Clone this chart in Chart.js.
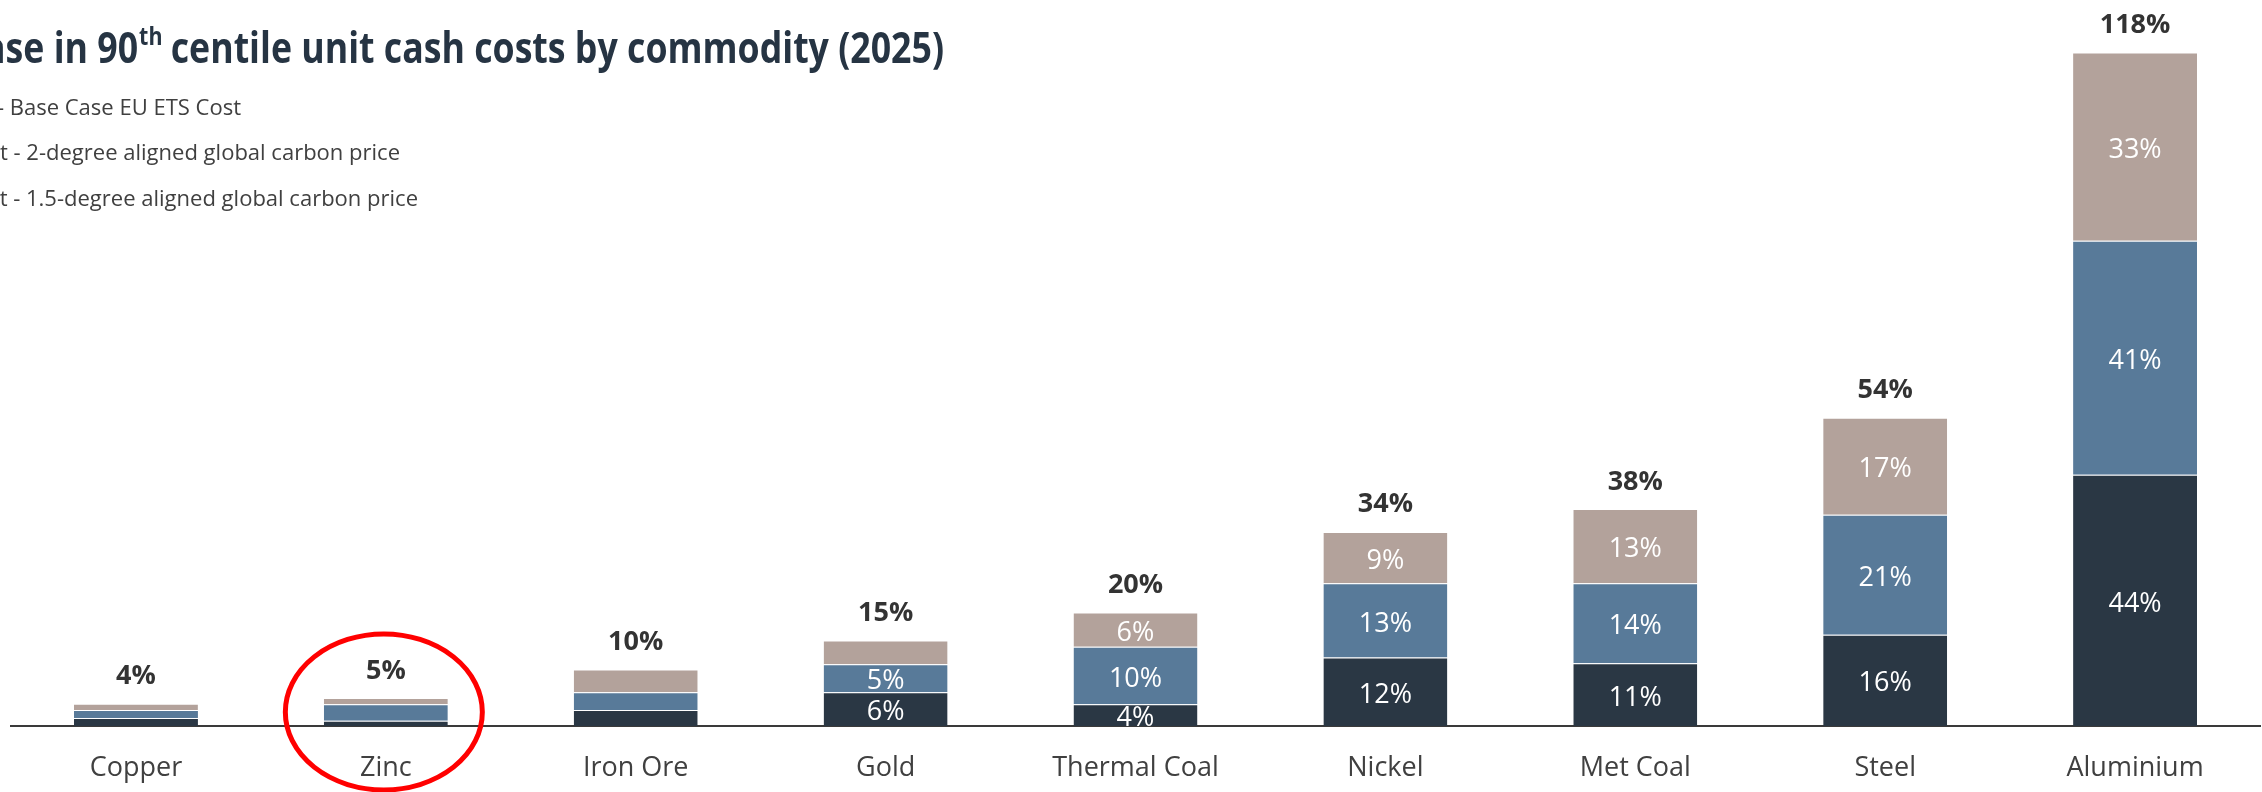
<!DOCTYPE html>
<html>
<head>
<meta charset="utf-8">
<script src="https://cdn.jsdelivr.net/npm/chart.js@4.4.1/dist/chart.umd.min.js"></script>
<style>
  html, body { margin: 0; padding: 0; background: #fff; }
  #wrap { width: 2262px; height: 792px; }
</style>
</head>
<body>
<div id="wrap"><canvas id="costChart" width="2262" height="792"></canvas></div>
<script>
// DATA
const commodities = ["Copper", "Zinc", "Iron Ore", "Gold", "Thermal Coal", "Nickel", "Met Coal", "Steel", "Aluminium"];
const baseCase    = [1.4, 0.9, 2.8, 5.9, 3.8, 12, 11, 16, 44];
const twoDegree   = [1.4, 2.9, 3.1, 4.9, 10.1, 13, 14, 21, 41];
const onePointFive = [1.1, 1.1, 4.0, 4.2, 6.0, 9, 13, 17, 33];

// which segments carry a value label inside the bar
const baseShown   = [false, false, false, true, true, true, true, true, true];
const twoShown    = [false, false, false, true, true, true, true, true, true];
const onePtShown  = [false, false, false, false, true, true, true, true, true];

// commodity circled in red
const highlighted = "Zinc";

// TEXT
const titleLead = "ase in ";
const titleNum = "90";
const titleSup = "th";
const titleRest = " centile unit cash costs by commodity (2025)";
const legendLines = [
  "- Base Case EU ETS Cost",
  "t - 2-degree aligned global carbon price",
  "t - 1.5-degree aligned global carbon price"
];

const FONT = '"Open Sans", "Noto Sans", sans-serif';
Chart.defaults.font.family = FONT;

// title + legend text (left side is cropped in the original)
const textPlugin = {
  id: "texts",
  afterDraw(chart) {
    const ctx = chart.ctx;
    ctx.save();

    // title, fitted so "90th ... (2025)" spans 97..944
    let size = 36;
    const widths = (s) => {
      ctx.font = `bold ${s}px ${FONT}`;
      const a = ctx.measureText(titleNum).width;
      const c = ctx.measureText(titleRest).width;
      ctx.font = `bold ${s * 0.6}px ${FONT}`;
      const b = ctx.measureText(titleSup).width;
      return [a, b, c];
    };
    let w = widths(size);
    size = size * 847 / (w[0] + w[1] + w[2]);
    w = widths(size);
    let x = 944 - (w[0] + w[1] + w[2]);
    ctx.save();
    ctx.translate(0, 63);
    ctx.scale(1, 1.18); // taller, narrower look of the original face
    ctx.fillStyle = "#263443";
    ctx.textBaseline = "alphabetic";
    ctx.font = `bold ${size}px ${FONT}`;
    ctx.textAlign = "right";
    ctx.fillText(titleLead, x, 0);
    ctx.textAlign = "left";
    ctx.fillText(titleNum, x, 0);
    x += w[0];
    ctx.font = `bold ${size * 0.6}px ${FONT}`;
    ctx.fillText(titleSup, x + 1, -size * 0.42);
    x += w[1];
    ctx.font = `bold ${size}px ${FONT}`;
    ctx.fillText(titleRest, x, 0);
    ctx.restore();

    // legend lines
    ctx.font = `20px ${FONT}`;
    const lw = ctx.measureText("2-degree aligned global carbon price").width;
    const lsize = 20 * 374 / lw;
    ctx.font = `${lsize}px ${FONT}`;
    ctx.fillStyle = "#404040";
    ctx.textAlign = "right";
    const ends = [241, 400, 418];
    const bases = [115, 160, 206];
    legendLines.forEach((t, i) => ctx.fillText(t, ends[i], bases[i]));

    // red ring around the highlighted commodity
    const idx = commodities.indexOf(highlighted);
    const cx = chart.scales.x.getPixelForValue(idx) - 2;
    ctx.strokeStyle = "#ff0000";
    ctx.lineWidth = 5;
    ctx.beginPath();
    ctx.ellipse(cx, 712, 98.5, 78, 0, 0, Math.PI * 2);
    ctx.stroke();

    ctx.restore();
  }
};

// value labels inside segments and totals on top
const labelPlugin = {
  id: "barLabels",
  afterDatasetsDraw(chart) {
    const ctx = chart.ctx;
    const size = 27;
    ctx.save();
    ctx.textAlign = "center";
    ctx.textBaseline = "alphabetic";
    chart.data.datasets.forEach((ds, di) => {
      const meta = chart.getDatasetMeta(di);
      meta.data.forEach((bar, i) => {
        if (!ds.shown[i]) return;
        const p = bar.getProps(["x", "y", "base"], true);
        const mid = (p.y + p.base) / 2;
        ctx.font = `${size}px ${FONT}`;
        ctx.fillStyle = "#ffffff";
        ctx.fillText(Math.round(ds.data[i]) + "%", p.x, mid + size * 0.357 + 1.5);
      });
    });
    const last = chart.getDatasetMeta(chart.data.datasets.length - 1);
    last.data.forEach((bar, i) => {
      const p = bar.getProps(["x", "y"], true);
      const total = baseCase[i] + twoDegree[i] + onePointFive[i];
      ctx.font = `bold ${size}px ${FONT}`;
      ctx.fillStyle = "#333333";
      ctx.fillText(Math.round(total) + "%", p.x, p.y - 19.5);
    });
    ctx.restore();
  }
};

const segBorder = "rgba(255,255,255,0.35)";

new Chart(document.getElementById("costChart"), {
  type: "bar",
  data: {
    labels: commodities,
    datasets: [
      { label: "Base Case EU ETS Cost", data: baseCase, shown: baseShown,
        backgroundColor: "#2a3744", borderColor: segBorder, borderWidth: { top: 1 } },
      { label: "2-degree aligned global carbon price", data: twoDegree, shown: twoShown,
        backgroundColor: "#587a99", borderColor: segBorder, borderWidth: { top: 1 } },
      { label: "1.5-degree aligned global carbon price", data: onePointFive, shown: onePtShown,
        backgroundColor: "#b3a29b", borderColor: segBorder, borderWidth: { top: 1 } }
    ]
  },
  options: {
    responsive: false,
    animation: false,
    devicePixelRatio: 1,
    layout: { padding: { top: 41, left: 11, right: 2, bottom: 0 } },
    datasets: { bar: { categoryPercentage: 1, barPercentage: 0.496 } },
    scales: {
      x: {
        stacked: true,
        grid: { display: false, drawTicks: false },
        border: { display: true, color: "#3a3a3a", width: 2 },
        ticks: { color: "#404040", font: { size: 27 }, padding: 26, maxRotation: 0 },
        afterFit: (s) => { s.height = 66; }
      },
      y: {
        stacked: true,
        display: false,
        min: 0,
        max: 120
      }
    },
    plugins: {
      legend: { display: false },
      tooltip: { enabled: false }
    }
  },
  plugins: [textPlugin, labelPlugin]
});
</script>
</body>
</html>
